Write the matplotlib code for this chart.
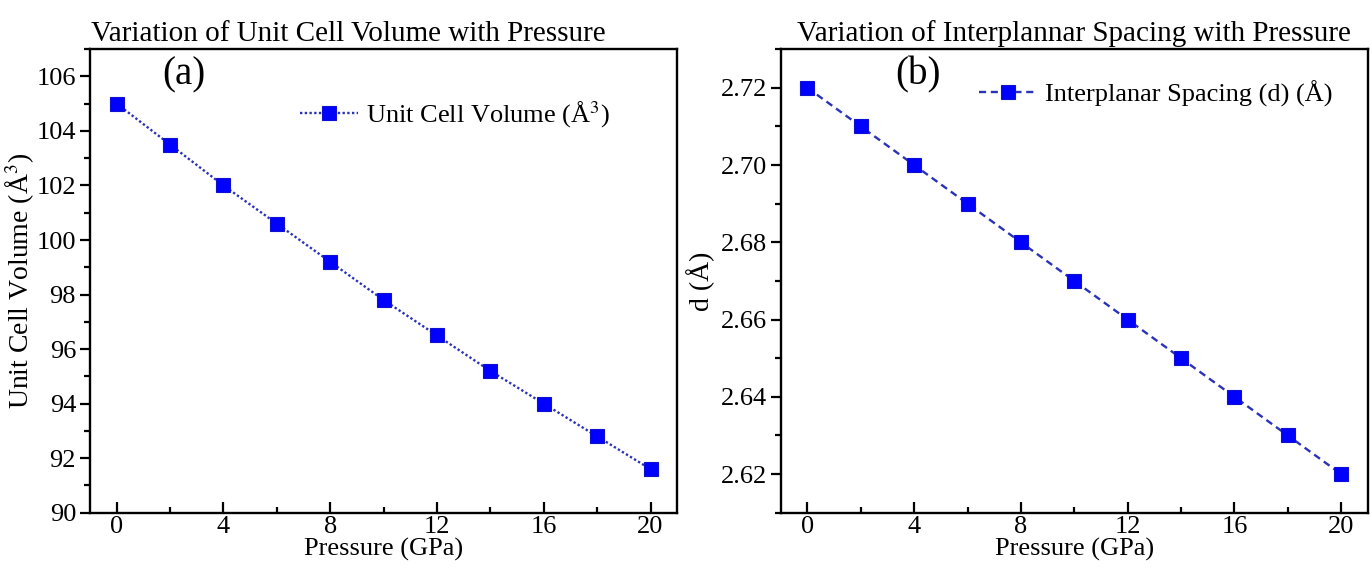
import matplotlib.pyplot as plt
from matplotlib.ticker import MultipleLocator

# data
pressure = [0, 2, 4, 6, 8, 10, 12, 14, 16, 18, 20]
volume = [105.0, 103.5, 102.0, 100.6, 99.2, 97.8, 96.5, 95.2, 94.0, 92.8, 91.6]
spacing = [2.72, 2.71, 2.70, 2.69, 2.68, 2.67, 2.66, 2.65, 2.64, 2.63, 2.62]

plt.rcParams['font.family'] = ['Liberation Serif', 'DejaVu Serif']
plt.rcParams['mathtext.fontset'] = 'stix'

fig = plt.figure(figsize=(13.72, 5.71), dpi=100)
ax1 = fig.add_axes([0.0656, 0.102, 0.428, 0.812])
ax2 = fig.add_axes([0.569, 0.102, 0.428, 0.812])

line_col = '#2a32b8'
mk = dict(marker='s', markersize=10.5, markerfacecolor='#0000ff',
          markeredgecolor='#1010d0', markeredgewidth=0.8, color=line_col, lw=1.7)

ax1.plot(pressure, volume, linestyle=(0, (1, 1)), label='Unit Cell Volume (Å$^3$)', **mk)
ax2.plot(pressure, spacing, linestyle=(0, (3, 2)), label='Interplanar Spacing (d) (Å)', **mk)

def style(ax):
    ax.set_xlim(-1, 21)
    ax.xaxis.set_major_locator(MultipleLocator(4))
    ax.xaxis.set_minor_locator(MultipleLocator(2))
    ax.tick_params(axis='x', which='both', direction='in', top=False, labelsize=19, pad=2)
    ax.tick_params(axis='x', which='major', length=8, width=1.6)
    ax.tick_params(axis='x', which='minor', length=4, width=1.6)
    ax.tick_params(axis='y', which='both', direction='out', right=False, labelsize=19, pad=3)
    ax.tick_params(axis='y', which='major', length=7, width=1.6)
    ax.tick_params(axis='y', which='minor', length=4, width=1.6)
    for s in ax.spines.values():
        s.set_linewidth(1.7)
    ax.set_xlabel('Pressure (GPa)', fontsize=19, labelpad=0)

style(ax1)
ax1.set_ylim(90, 107)
ax1.yaxis.set_major_locator(MultipleLocator(2))
ax1.yaxis.set_minor_locator(MultipleLocator(1))
ax1.set_ylabel('Unit Cell Volume (Å$^3$)', fontsize=20, labelpad=0)
ax1.set_title('Variation of Unit Cell Volume with Pressure', fontsize=21, x=0.44, pad=6)
ax1.text(0.16, 0.944, '(a)', transform=ax1.transAxes, fontsize=28, ha='center', va='center')
ax1.legend(loc='upper left', bbox_to_anchor=(0.34, 0.915), frameon=False, fontsize=19,
           handlelength=2.2, handletextpad=0.3, borderaxespad=0)

style(ax2)
ax2.set_ylim(2.61, 2.73)
ax2.yaxis.set_major_locator(MultipleLocator(0.02))
ax2.yaxis.set_minor_locator(MultipleLocator(0.01))
ax2.yaxis.set_major_formatter(plt.FormatStrFormatter('%.2f'))
ax2.set_ylabel('d (Å)', fontsize=20, labelpad=4)
ax2.set_title('Variation of Interplannar Spacing with Pressure', fontsize=21, pad=6)
ax2.text(0.234, 0.944, '(b)', transform=ax2.transAxes, fontsize=28, ha='center', va='center')
ax2.legend(loc='upper left', bbox_to_anchor=(0.32, 0.955), frameon=False, fontsize=19,
           handlelength=2.2, handletextpad=0.3, borderaxespad=0)

fig.savefig('out.png', dpi=100)
